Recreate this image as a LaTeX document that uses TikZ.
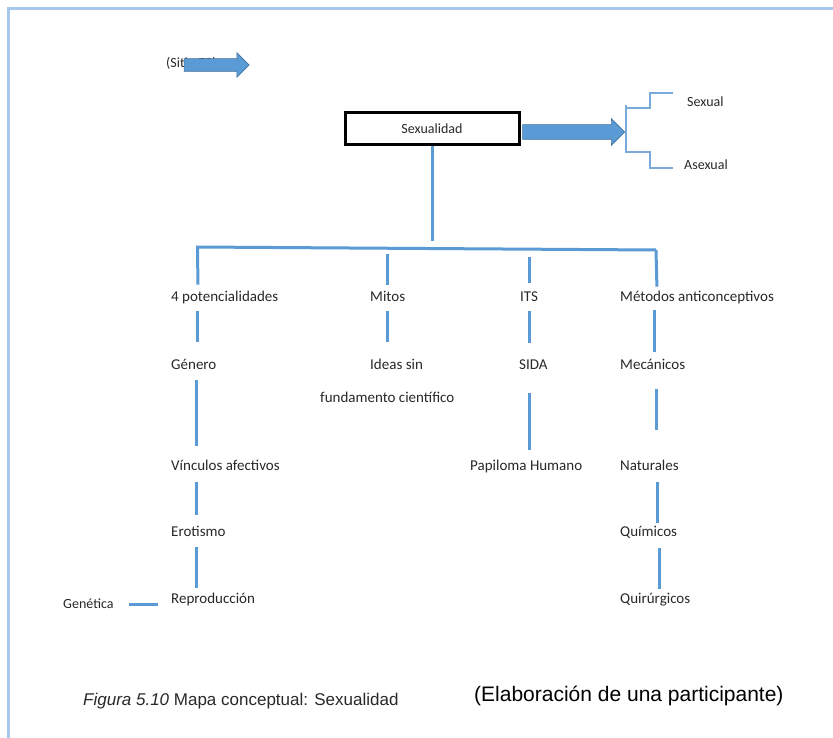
\documentclass[tikz,border=0pt]{standalone}
\usepackage{fontspec}
\usepackage{tikz}
\usetikzlibrary{shapes.arrows,positioning,calc}
\newfontfamily\carl{Carlito}
\newfontfamily\arialf{Liberation Sans}
\definecolor{mapblue}{RGB}{91,155,213}
\definecolor{mapdark}{RGB}{65,113,156}
\definecolor{framelight}{RGB}{165,200,235}
\definecolor{brklight}{RGB}{120,170,220}
\definecolor{txtgray}{RGB}{40,40,40}

\begin{document}
\begin{tikzpicture}[
    x=1pt, y=-1pt,
    lbl/.style={font=\carl\fontsize{15}{17}\selectfont, txtgray, inner sep=0pt, anchor=west,
                text height=11pt, text depth=3.5pt},
    sml/.style={font=\carl\fontsize{14}{16}\selectfont, txtgray, inner sep=0pt, anchor=west},
    link/.style={line width=3pt, mapblue},
    brk/.style={line width=1.3pt, brklight},
    fatarrow/.style={single arrow, fill=mapblue, draw=mapdark, line width=0.6pt,
                     inner xsep=0pt, single arrow head extend=6pt}
]
\useasboundingbox (0,0) rectangle (833,738);
% frame
\draw[line width=3pt, framelight] (8,760) -- (8,9) -- (850,9);

% top left note and arrow
\node[sml] (note) at (166,63) {(Sitio E2)};
\node[fatarrow, inner ysep=6pt, minimum height=65pt, minimum width=24pt] (noteArr) at (213.5,65) {};

% central concept
\node[draw, line width=3pt, minimum width=174pt, minimum height=32pt, inner sep=0pt,
      font=\carl\fontsize{14}{16}\selectfont, text=txtgray] (sex) at (432,129) {Sexualidad};
\node[fatarrow, inner ysep=7pt, minimum height=102pt, minimum width=26pt, single arrow head extend=6pt]
      (bigArr) at (570,132) {};

% bracket
\coordinate (brkTop) at (626,105);
\coordinate (brkBot) at (626,153);
\draw[brk] (brkTop) -- (brkBot);
\draw[brk] ($(brkTop)+(0,3)$) -| (650,93) -- (673,93);
\draw[brk] ($(brkBot)+(0,-1)$) -| (650,168) -- (673,168);
\node[sml] (sexual) at (687,102) {Sexual};
\node[sml] (asexual) at (684,165) {Asexual};

% main branches
\node[lbl] (pot) at (171,298) {4 potencialidades};
\node[lbl] (mitos) at (370,298) {Mitos};
\node[lbl] (its) at (520,298) {ITS};
\node[lbl] (met) at (620,298) {Métodos anticonceptivos};

\node[lbl] (gen) at (171,366) {Género};
\node[lbl] (ideas) at (370,366) {Ideas sin};
\node[lbl] (fund) at (320,399) {fundamento científico};
\node[lbl] (sida) at (519,366) {SIDA};
\node[lbl] (mec) at (620,366) {Mecánicos};

\node[lbl] (vin) at (171,467) {Vínculos afectivos};
\node[lbl] (pap) at (470,467) {Papiloma Humano};
\node[lbl] (nat) at (620,467) {Naturales};

\node[lbl] (ero) at (171,533) {Erotismo};
\node[lbl] (quim) at (620,533) {Químicos};

\node[lbl] (rep) at (171,600) {Reproducción};
\node[lbl] (quir) at (620,600) {Quirúrgicos};
\node[sml] (genet) at (63,604) {Genética};

% trunk and bus
\coordinate (busL) at (196,247);
\coordinate (busR) at (656,250);
\draw[link, shorten >=6pt] (sex.south) -- (sex.south |- busL);
\draw[link] (busL) -- (busR);
\draw[link, shorten >=6pt] ([xshift=1.5pt]busL) -- ([xshift=27pt]pot.north west);
\draw[link, shorten <=7pt, shorten >=6pt] (mitos.north |- busL) -- (mitos.north);
\draw[link, shorten <=10pt, shorten >=8pt] (its.north |- busL) -- (its.north);
\draw[link, shorten >=4pt] (busR) -- ([xshift=37pt]met.north west);

% left column
\draw[link, shorten <=6pt, shorten >=17pt] ([xshift=26pt]pot.south west) -- ([xshift=26pt]gen.north west);
\draw[link, shorten <=7pt, shorten >=14pt] ([xshift=25pt]gen.south west) -- ([xshift=25pt]vin.north west);
\draw[link, shorten <=8pt, shorten >=11pt] ([xshift=25pt]vin.south west) -- ([xshift=25pt]ero.north west);
\draw[link, shorten <=7pt, shorten >=5pt] ([xshift=25pt]ero.south west) -- ([xshift=25pt]rep.north west);
\draw[link, shorten <=15pt, shorten >=13pt] (genet.east) -- (genet.east -| rep.west);

% middle columns
\draw[link, shorten <=6pt, shorten >=17pt] (mitos.south) -- (mitos.south |- ideas.north);
\draw[link, shorten <=6pt, shorten >=16pt] (its.south) -- (its.south |- sida.north);
\draw[link, shorten <=20pt, shorten >=10pt] (its.south |- sida.south) -- (its.south |- pap.north);

% right column
\draw[link, shorten <=5pt, shorten >=7pt] ([xshift=34pt]met.south west) -- ([xshift=34pt]mec.north west);
\draw[link, shorten <=16pt, shorten >=30pt] ([xshift=36pt]mec.south west) -- ([xshift=36pt]nat.north west);
\draw[link, shorten <=8pt, shorten >=3pt] ([xshift=37pt]nat.south west) -- ([xshift=37pt]quim.north west);
\draw[link, shorten <=8pt, shorten >=4pt] ([xshift=39pt]quim.south west) -- ([xshift=39pt]quir.north west);

% caption
\node[anchor=west, inner sep=0pt, font=\arialf\fontsize{17}{19}\selectfont, txtgray] (cap) at (83,701)
      {\textit{Figura 5.10} Mapa conceptual: Sexualidad};
\node[anchor=west, inner sep=0pt, font=\arialf\fontsize{21}{23}\selectfont, black] (src) at (474,696)
      {(Elaboración de una participante)};
\end{tikzpicture}
\end{document}
